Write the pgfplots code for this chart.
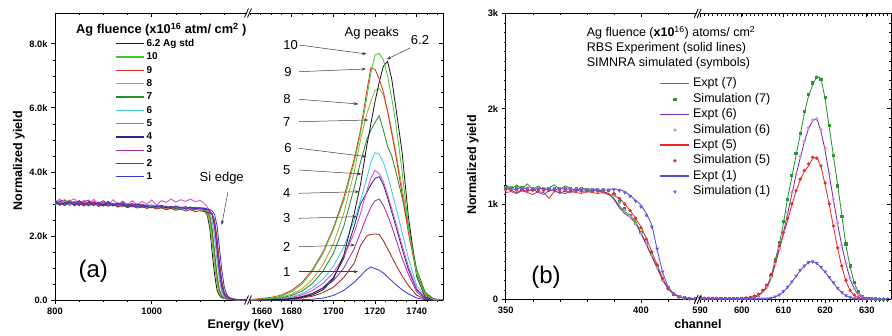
\documentclass[border=0pt]{standalone}
\usepackage{fontspec}
\setmainfont{Liberation Sans}
\usepackage{pgfplots}
\pgfplotsset{compat=1.18}
\usepackage{pgfplotstable}
\usetikzlibrary{arrows.meta}

\definecolor{cblack}{RGB}{30,30,30}
\definecolor{c10}{RGB}{70,200,50}
\definecolor{c9}{RGB}{225,50,40}
\definecolor{c8}{RGB}{175,165,60}
\definecolor{c7}{RGB}{40,140,50}
\definecolor{c6}{RGB}{70,200,225}
\definecolor{c5}{RGB}{225,70,210}
\definecolor{c4}{RGB}{40,40,140}
\definecolor{c3}{RGB}{160,50,170}
\definecolor{c2}{RGB}{160,40,40}
\definecolor{c1}{RGB}{60,60,210}
\definecolor{xgreen}{RGB}{40,150,50}
\definecolor{xpurple}{RGB}{130,40,170}
\definecolor{xred}{RGB}{235,40,40}
\definecolor{xblue}{RGB}{80,80,210}
\definecolor{slav}{RGB}{190,150,210}
\definecolor{sblue}{RGB}{110,90,210}
\definecolor{arr}{RGB}{60,60,60}

\pgfplotstableread{
x s62 s10 s9 s8 s7 s6 s5 s4 s3 s2 s1
800 3010 3080 3050 2990 3100 2960 3060 3120 3000 3040 3070
810 3090 2980 3040 3110 2990 3050 3150 2960 3080 2970 3020
820 2960 3060 3100 3020 3040 3090 2980 3030 3130 3010 2950
830 3050 3120 2950 3000 3070 2940 3090 3060 2990 3080 3040
840 2990 3000 3070 3090 2950 3030 3160 2980 3050 2940 3060
850 3040 2950 3010 2970 3080 3060 3020 3100 2940 3030 2980
860 2970 3070 2930 3050 3010 2980 3110 2990 3070 2960 3020
870 3030 2990 3080 2960 2940 3040 3000 3050 3120 2990 2950
880 2950 3040 2990 3010 3070 2930 3140 2960 2980 3060 3010
890 3010 2940 3060 2980 3000 3050 2990 3040 3030 2920 2990
900 2980 3020 2950 3070 2930 2990 3060 2970 3100 3000 2940
910 2940 2990 3030 2950 3050 3020 2960 3080 2990 2930 3010
920 3000 2930 2980 3010 2960 2950 3130 2940 3020 2980 2970
930 2930 3010 2940 2970 3040 2990 2980 3010 2950 2900 3020
940 2970 2960 3020 2930 2920 2940 3090 2990 3060 2960 2930
950 2950 2920 2960 3000 2980 3010 2970 2920 2940 2880 2990
960 2910 2990 2930 2950 3010 2900 3100 2960 3000 2940 2950
970 2960 2930 2990 2910 2940 2970 2950 3000 2930 2870 2910
980 2920 2880 2950 2960 2900 2930 3080 2940 2990 2910 2960
990 2890 2960 2900 2930 2970 2890 2990 2910 2950 2860 2920
1000 2930 2910 2940 2880 2920 2950 3120 2890 2970 2900 2880
1010 2880 2950 2890 2940 2870 2910 2960 2930 2900 2840 2930
1020 2910 2870 2930 2900 2950 2880 3100 2950 2940 2880 2890
1030 2870 2920 2880 2860 2900 2930 3050 2880 2920 2820 2910
1040 2900 2890 2850 2910 2880 2860 3150 2920 2870 2860 2870
1050 2860 2840 2900 2870 2910 2900 3060 2860 2940 2800 2920
1060 2880 2900 2860 2830 2850 2870 3130 2900 2880 2840 2880
1070 2840 2860 2880 2890 2870 2830 3080 2850 2920 2780 2860
1080 2870 2830 2840 2850 2900 2880 3150 2890 2860 2820 2900
1090 2830 2880 2820 2860 2840 2850 3070 2840 2900 2760 2870
1100 2850 2840 2870 2820 2860 2830 3110 2880 2850 2790 2880
1105 2790 2810 2830 2790 2830 2850 3060 2860 2880 2770 2850
1110 2760 2780 2800 2778 2810 2840 3000 2830 2870 2750 2860
1115 2650 2694 2738 2716 2760 2778 2900 2820 2840 2740 2840
1120 2250 2410 2570 2490 2650 2716 2800 2766 2772 2720 2820
1125 1500 1800 2100 1950 2250 2490 2650 2672 2694 2680 2780
1130 800 1080 1360 1220 1500 1950 2250 2330 2410 2490 2672
1135 320 512 704 608 800 1220 1500 1650 1800 1950 2330
1140 140 212 284 248 320 608 800 940 1080 1220 1650
1145 70 98 126 112 140 248 320 416 512 608 940
1150 45 55 65 60 70 112 140 176 212 248 416
1155 30 36 42 39 45 60 70 84 98 112 176
1160 20 24 28 26 30 39 45 50 55 60 84
1170 6 8 9 9 10 16 20 22 24 26 32
1180 1 2 3 2 3 5 6 7 8 9 12
1197 0 0 0 0 0 0 1 1 1 1 1
}\aleft

\pgfplotstableread{
x s62 s10 s9 s8 s7 s6 s5 s4 s3 s2 s1
1660 0 5 10 5 5 3 2 0 0 0 0
1670 10 60 80 40 30 20 15 8 10 5 0
1675 20 120 150 90 70 45 35 20 25 12 2
1680 40 260 300 180 140 100 80 45 55 30 5
1685 80 500 550 350 280 200 160 100 110 60 10
1690 160 900 950 650 520 380 300 200 210 120 25
1695 320 1450 1500 1100 900 650 520 380 370 230 60
1700 650 2200 2250 1750 1450 1050 850 700 600 400 140
1705 1400 3100 3200 2700 2300 1650 1350 1300 1000 700 300
1710 2700 4300 4400 4000 3500 2500 2100 2300 1600 1150 550
1713 3600 5200 5300 5000 4300 3100 2700 3000 2100 1700 750
1716 4800 6300 6500 5800 5000 3800 3400 3350 2600 2000 950
1718 5500 7100 7250 6200 5300 4300 3800 3600 2900 2050 1030
1720 6200 7650 7200 6550 5550 4600 4050 3800 3100 2060 980
1722 6800 7700 6900 6600 5750 4550 3950 3850 3150 2050 930
1724 7300 7500 6500 6400 5300 4300 3700 3600 2950 1850 840
1726 7450 7000 5900 5900 4800 3900 3300 3200 2650 1600 720
1728 6900 6300 5200 5300 4500 3400 2850 2750 2300 1350 600
1730 6000 5500 4500 4600 4000 2900 2400 2300 1900 1100 480
1733 4600 4000 3300 3500 3200 2100 1700 1600 1300 750 320
1736 2600 2300 2100 2300 2300 1300 1050 950 800 450 190
1740 730 800 800 850 950 450 350 320 250 150 60
1744 100 150 180 200 250 100 80 70 50 30 15
1748 10 20 25 30 40 15 10 10 5 5 2
1753 0 0 0 0 0 0 0 0 0 0 0
}\aright

\pgfplotstableread{
ch eg ep er eb sg sp sr sb
350 1180 1200 1120 1170 1175 1170 1150 1165
352 1150 1160 1130 1140 1172 1168 1148 1163
354 1200 1150 1110 1120 1170 1167 1147 1162
356 1160 1180 1140 1150 1168 1166 1146 1161
358 1210 1150 1120 1130 1167 1165 1145 1160
360 1150 1140 1100 1160 1166 1164 1144 1159
362 1190 1170 1130 1120 1165 1163 1143 1158
364 1140 1160 1120 1100 1164 1162 1142 1157
366 1170 1150 1060 1140 1163 1161 1141 1156
368 1200 1140 1130 1150 1162 1160 1140 1155
370 1150 1170 1120 1110 1161 1159 1139 1154
372 1190 1150 1110 1140 1160 1158 1138 1153
374 1160 1160 1130 1120 1159 1157 1137 1152
376 1140 1140 1120 1150 1158 1156 1136 1151
378 1170 1160 1110 1130 1157 1155 1135 1150
380 1150 1150 1130 1140 1156 1154 1134 1150
382 1160 1140 1120 1130 1155 1153 1133 1150
384 1140 1150 1110 1150 1154 1152 1132 1150
386 1120 1130 1120 1140 1150 1148 1130 1150
388 1100 1110 1100 1150 1140 1140 1140 1150
390 1060 1050 1090 1160 1100 1090 1110 1150
392 980 960 1060 1150 1030 1010 1060 1140
394 920 900 1000 1130 950 930 1000 1120
396 880 860 930 1090 880 870 930 1080
398 820 800 850 1040 800 790 850 1030
400 700 690 760 990 700 690 750 970
402 580 570 640 900 590 580 630 880
404 460 450 500 780 470 460 500 760
406 330 330 360 520 340 330 360 530
408 200 210 220 280 210 200 220 290
410 110 110 110 130 110 110 110 130
412 60 60 55 60 55 55 55 60
414 30 30 25 28 28 28 25 28
416 15 15 12 12 14 14 12 12
418 8 8 6 6 8 8 6 6
420 5 5 4 4 5 5 4 4
422 4 4 3 3 4 4 3 3
}\bleft

\pgfplotstableread{
ch eg ep er eb sg sp sr sb
589 13 13 11 11 15 15 13 13
590 12 12 10 10 14 14 12 12
591 10 11 9 9 12 12 10 10
592 9 10 8 8 11 11 9 9
593 8 9 7 7 10 10 8 8
594 8 8 7 6 9 9 8 7
595 7 7 6 6 8 8 7 6
596 7 7 6 5 8 8 7 6
597 6 6 5 5 7 7 6 5
598 6 6 5 5 7 7 6 5
599 6 6 6 4 7 7 7 5
600 7 6 8 4 8 8 10 5
601 9 8 12 4 10 10 14 5
602 12 12 18 4 14 14 20 5
603 22 22 30 4 24 24 35 5
604 40 40 45 4 45 42 55 5
605 80 75 80 4 85 80 95 5
606 130 125 120 5 140 135 150 6
607 240 220 220 12 250 230 260 14
608 410 360 380 25 420 370 400 28
609 580 520 540 45 600 530 560 48
610 800 700 680 80 820 720 700 85
611 1060 900 830 125 1050 910 850 130
612 1280 1100 990 180 1300 1120 1000 185
613 1510 1300 1130 240 1530 1310 1140 245
614 1720 1480 1250 300 1740 1500 1260 305
615 1950 1650 1340 350 1970 1660 1350 352
616 2130 1790 1400 385 2150 1800 1420 388
617 2250 1870 1480 395 2270 1880 1490 396
618 2340 1900 1490 375 2330 1890 1480 380
619 2320 1760 1390 335 2310 1780 1400 340
620 2100 1560 1200 285 2120 1580 1220 290
621 1800 1300 990 230 1820 1320 1000 232
622 1500 1040 760 170 1510 1050 770 175
623 1200 790 530 115 1190 800 540 118
624 880 560 340 70 870 570 350 72
625 560 370 190 38 580 380 200 40
626 340 210 90 18 350 220 95 20
627 170 110 40 8 180 115 45 9
628 70 45 15 3 80 50 18 4
629 25 18 8 2 30 20 10 3
630 8 6 5 1 10 8 6 2
631 4 4 3 1 5 5 4 2
632 2 2 2 0 3 3 3 1
633 1 1 1 0 2 2 2 1
634 0 0 0 0 1 1 1 0
635 0 0 0 0 1 1 1 0
636 0 0 0 0 0 0 0 0
}\bright

\pgfplotsset{
  panel/.style={
    scale only axis, anchor=south west, ymin=0,
    major tick length=4pt, minor tick length=2.2pt,
    axis line style={line width=0.9pt},
    major tick style={line width=0.7pt, black},
    minor tick style={line width=0.5pt, black},
    tick label style={font=\bfseries\fontsize{9.3}{10}\selectfont},
    every axis plot/.append style={line width=0.85pt},
  },
  segAL/.style={at={(55pt,35pt)}, width=192pt, height=287pt,
    xmin=800, xmax=1197.1, ymax=8960,
    xtick={800,1000}, minor xtick={850,900,950,1050,1100,1150},
    ytick={0,2000,4000,6000,8000}, minor y tick num=3},
  segAR/.style={at={(250pt,35pt)}, width=193pt, height=287pt,
    xmin=1660, xmax=1752.6, ymax=8960,
    xtick={1680,1700,1720,1740}, minor xtick={1660,1665,...,1750},
    ytick={0,2000,4000,6000,8000}, minor y tick num=3},
  segBL/.style={at={(505.7pt,35.7pt)}, width=191pt, height=286pt,
    xmin=350, xmax=420.6, ymax=3000,
    xtick={350,400}, minor xtick={360,370,380,390,410,420},
    ytick={0,1000,2000,3000}, minor y tick num=9},
  segBR/.style={at={(699.7pt,35.7pt)}, width=191.3pt, height=286pt,
    xmin=589.9, xmax=635.8, ymax=3000,
    xtick={590,600,610,620,630}, minor xtick={589,590,...,636},
    ytick={0,1000,2000,3000}, minor y tick num=9},
  lineleg/.style={legend image code/.code={\draw[draw=#1, solid, line width=1.5pt] (0pt,0.3pt) -- (29pt,0.3pt);}},
  markleg/.style={legend image code/.code={\draw[##1] plot coordinates {(14.5pt,0pt)};}},
}

\begin{document}
\begin{tikzpicture}
\useasboundingbox (0pt,0pt) rectangle (892pt,335pt);

% ---------- panel (a), left segment
\begin{axis}[panel, segAL, tick align=outside,
  axis x line*=bottom, axis y line*=left,
  xticklabels={800,1000},
  yticklabels={0.0,2.0k,4.0k,6.0k,8.0k},
  legend image code/.code={\draw[#1, line width=1.3pt] (0pt,0pt) -- (28pt,0pt);},
  legend style={draw=none, fill=none, at={(0.3125,0.91)}, anchor=north west,
    font=\bfseries\fontsize{10}{10}\selectfont, inner sep=0pt,
    row sep=3.8pt, column sep=2pt,
    nodes={inner sep=0pt, text height=7.5pt, text depth=2pt}},
  legend cell align=left,
]
\addplot[color=cblack] table[x=x,y=s62]{\aleft}; \addlegendentry{6.2 Ag std}
\addplot[color=c10] table[x=x,y=s10]{\aleft}; \addlegendentry{10}
\addplot[color=c9] table[x=x,y=s9]{\aleft}; \addlegendentry{9}
\addplot[color=c8] table[x=x,y=s8]{\aleft}; \addlegendentry{8}
\addplot[color=c7] table[x=x,y=s7]{\aleft}; \addlegendentry{7}
\addplot[color=c6] table[x=x,y=s6]{\aleft}; \addlegendentry{6}
\addplot[color=c5] table[x=x,y=s5]{\aleft}; \addlegendentry{5}
\addplot[color=c4] table[x=x,y=s4]{\aleft}; \addlegendentry{4}
\addplot[color=c3] table[x=x,y=s3]{\aleft}; \addlegendentry{3}
\addplot[color=c2] table[x=x,y=s2]{\aleft}; \addlegendentry{2}
\addplot[color=c1] table[x=x,y=s1]{\aleft}; \addlegendentry{1}
\end{axis}
\begin{axis}[panel, segAL, tick align=inside, axis x line*=top, hide y axis, xticklabels={}]
\end{axis}

% ---------- panel (a), right segment
\begin{axis}[panel, segAR, tick align=outside,
  axis x line*=bottom, hide y axis,
  xticklabels={1680,1700,1720,1740},
  extra x ticks={1660}, extra x tick labels={1660},
  extra x tick style={xticklabel style={xshift=12pt}},
]
\addplot[color=c1] table[x=x,y=s1]{\aright};
\addplot[color=c2] table[x=x,y=s2]{\aright};
\addplot[color=c3] table[x=x,y=s3]{\aright};
\addplot[color=c4] table[x=x,y=s4]{\aright};
\addplot[color=c5] table[x=x,y=s5]{\aright};
\addplot[color=c6] table[x=x,y=s6]{\aright};
\addplot[color=c8] table[x=x,y=s8]{\aright};
\addplot[color=c7] table[x=x,y=s7]{\aright};
\addplot[color=cblack] table[x=x,y=s62]{\aright};
\addplot[color=c9] table[x=x,y=s9]{\aright};
\addplot[color=c10] table[x=x,y=s10]{\aright};
\end{axis}
\begin{axis}[panel, segAR, tick align=inside, axis x line*=top, axis y line*=right,
  xticklabels={}, yticklabels={}]
\end{axis}

% ---------- panel (b), left segment
\begin{axis}[panel, segBL, tick align=outside,
  axis x line*=bottom, axis y line*=left,
  xticklabels={350,400},
  yticklabels={0,1k,2k,3k},
  legend style={draw=none, fill=none, at={(0.805,0.775)}, anchor=north west,
    font=\fontsize{12.5}{13}\selectfont, inner sep=0pt,
    row sep=3.4pt, column sep=3pt,
    nodes={inner sep=0pt, text height=9pt, text depth=3pt}},
  legend cell align=left,
]
\addplot[color=xgreen, lineleg=xgreen] table[x=ch,y=eg]{\bleft}; \addlegendentry{Expt (7)}
\addplot[color=xgreen, only marks, mark=square*, mark size=1.1pt, markleg] table[x=ch,y=sg]{\bleft}; \addlegendentry{Simulation (7)}
\addplot[color=xpurple, lineleg=xpurple] table[x=ch,y=ep]{\bleft}; \addlegendentry{Expt (6)}
\addplot[color=slav, only marks, mark=*, mark size=1.2pt, markleg] table[x=ch,y=sp]{\bleft}; \addlegendentry{Simulation (6)}
\addplot[color=xred, lineleg=xred] table[x=ch,y=er]{\bleft}; \addlegendentry{Expt (5)}
\addplot[color=xred, only marks, mark=*, mark size=1.2pt, markleg] table[x=ch,y=sr]{\bleft}; \addlegendentry{Simulation (5)}
\addplot[color=xblue, lineleg=xblue] table[x=ch,y=eb]{\bleft}; \addlegendentry{Expt (1)}
\addplot[color=sblue, only marks, mark=triangle*, mark size=1.4pt, mark options={rotate=180}, markleg] table[x=ch,y=sb]{\bleft}; \addlegendentry{Simulation (1)}
\end{axis}
\begin{axis}[panel, segBL, tick align=inside, axis x line*=top, hide y axis, xticklabels={}]
\end{axis}

% ---------- panel (b), right segment
\begin{axis}[panel, segBR, tick align=outside,
  axis x line*=bottom, hide y axis,
  xticklabels={590,600,610,620,630},
]
\addplot[color=xgreen] table[x=ch,y=eg]{\bright};
\addplot[color=xgreen, only marks, mark=square*, mark size=1.1pt] table[x=ch,y=sg]{\bright};
\addplot[color=xpurple] table[x=ch,y=ep]{\bright};
\addplot[color=slav, only marks, mark=*, mark size=1.2pt] table[x=ch,y=sp]{\bright};
\addplot[color=xred] table[x=ch,y=er]{\bright};
\addplot[color=xred, only marks, mark=*, mark size=1.2pt] table[x=ch,y=sr]{\bright};
\addplot[color=xblue] table[x=ch,y=eb]{\bright};
\addplot[color=sblue, only marks, mark=triangle*, mark size=1.4pt, mark options={rotate=180}] table[x=ch,y=sb]{\bright};
\end{axis}
\begin{axis}[panel, segBR, tick align=inside, axis x line*=top, axis y line*=right,
  xticklabels={}, yticklabels={}]
\end{axis}

% ---------- annotations
\begin{scope}[x=1pt,y=1pt, >={Stealth[length=4.5pt,width=3pt]}]
% axis break marks
\foreach \bx/\by in {248.5/35, 248.5/322, 698.2/35.7, 698.2/321.7}{
  \draw[line width=0.8pt] (\bx-4,\by-4.5) -- (\bx,\by+4.5);
  \draw[line width=0.8pt] (\bx-1,\by-4.5) -- (\bx+3,\by+4.5);
}
% axis labels
\node[rotate=90, font=\bfseries\fontsize{12.5}{13}\selectfont] at (19,174.3) {Normalized yield};
\node[font=\bfseries\fontsize{12.5}{13}\selectfont] at (245.8,10) {Energy (keV)};
\node[rotate=90, font=\bfseries\fontsize{12.5}{13}\selectfont] at (473,170) {Normalized yield};
\node[font=\bfseries\fontsize{12.5}{13}\selectfont] at (698,11) {channel};
% panel letters
\node[font=\fontsize{24}{26}\selectfont] at (93.3,63.3) {(a)};
\node[font=\fontsize{24}{26}\selectfont] at (546,57.5) {(b)};
% legend title (a)
\node[anchor=west, font=\bfseries\fontsize{12.8}{13}\selectfont, inner sep=0pt] at (76,305) {Ag fluence (x10\textsuperscript{16} atm/ cm\textsuperscript{2} )};
% header (b)
\node[anchor=west, font=\fontsize{12.5}{13}\selectfont, inner sep=0pt] at (586.7,302.3) {Ag fluence (\textbf{x10}\textsuperscript{16}) atoms/ cm\textsuperscript{2}};
\node[anchor=west, font=\fontsize{12.5}{13}\selectfont, inner sep=0pt] at (586.7,286.7) {RBS Experiment (solid lines)};
\node[anchor=west, font=\fontsize{12.5}{13}\selectfont, inner sep=0pt] at (586.7,271.7) {SIMNRA simulated (symbols)};
% peak labels (a)
\foreach \t/\nx/\ny/\ax/\ay in {10/290.5/290/366.7/281, 9/288/263.3/366/266, 8/287/235.7/358.3/231, 7/286.7/213.3/368.3/215, 6/288/186.7/366.7/178.3, 5/286.7/165/361.7/161, 4/286.7/141.7/359.3/143.3, 3/286.7/116.7/356.7/118.3, 2/286.7/88.3/355/90, 1/286.7/63.3/358.3/63.3}{
  \node[font=\fontsize{13}{14}\selectfont] at (\nx,\ny) {\t};
  \draw[->, arr, line width=0.5pt] (299,\ny) -- (\ax,\ay);
}
\node[font=\fontsize{13}{14}\selectfont] at (371.7,301.7) {Ag peaks};
\node[font=\fontsize{13}{14}\selectfont] at (420,295) {6.2};
\draw[->, arr, line width=0.5pt] (410,287) -- (386.7,275.7);
\node[font=\fontsize{13}{14}\selectfont] at (221.7,156.7) {Si edge};
\draw[->, arr, line width=0.5pt] (228,143.3) -- (221.7,110);
\end{scope}
\end{tikzpicture}
\end{document}
